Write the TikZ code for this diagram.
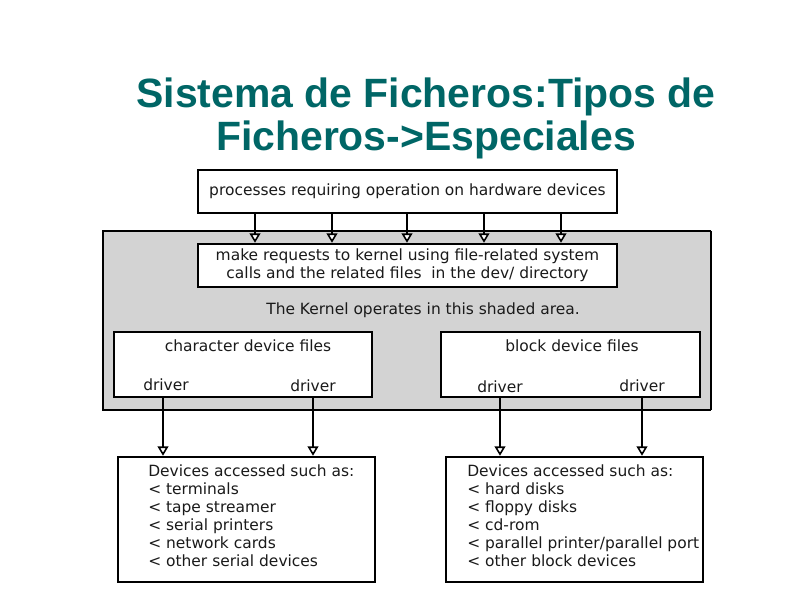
\documentclass[tikz,border=0pt]{standalone}
\usepackage{fontspec}
\setmainfont{DejaVu Sans}
\newfontfamily\titlefont{Liberation Sans}
\definecolor{titlecol}{HTML}{006666}
\definecolor{shadecol}{HTML}{D3D3D3}
\definecolor{inkcol}{HTML}{1A1A1A}
\usetikzlibrary{arrows.meta}

\begin{document}
\begin{tikzpicture}[x=0.75pt, y=-0.75pt,
  box/.style={draw=black, line width=1.8pt, fill=white, inner sep=0pt},
  lbl/.style={font=\fontsize{11.6}{13.5}\selectfont, text=inkcol},
  feed/.style={line width=1.7pt, -{Triangle[fill=white, length=7pt, width=8pt, line width=1.2pt]}}]

\useasboundingbox (0,0) rectangle (794,595);

% === TITLE ===
\node[font=\titlefont\bfseries\fontsize{30.7}{32.25}\selectfont, text=titlecol, align=center]
  (title) at (426,118) {Sistema de Ficheros:Tipos de\\Ficheros->Especiales};

% === KERNEL (shaded area) ===
\fill[shadecol] (103,231) rectangle (711,410);
\draw[line width=1.8pt] (711,231) -- (103,231) -- (103,410) -- (711,410);
\draw[line width=0.8pt] (711,231) -- (711,410);

% === PROCESSES -> REQUESTS ===
\node[box, lbl, minimum width=314.25pt, minimum height=32.25pt] (proc) at (407.5,191.5)
  {processes requiring operation on hardware devices};
\node[box, lbl, align=center, minimum width=314.25pt, minimum height=32.25pt] (req) at (407.5,265.5)
  {make requests to kernel using file-related system\\calls and the related files\ \ in the dev/ directory};
\foreach \x in {255,332,407,484,561}
  \draw[feed] (proc.south -| \x,0) -- (req.north -| \x,0);

\node[lbl] (kernel) at (423,310) {The Kernel operates in this shaded area.};

% === DEVICE FILES ===
\node[box, minimum width=193.5pt, minimum height=48.75pt] (cbox) at (243,364.5) {};
\node[box, minimum width=194.25pt, minimum height=48.75pt] (bbox) at (570.5,364.5) {};
\node[lbl] (ctitle) at (248,346) {character device files};
\node[lbl] (btitle) at (572,346) {block device files};
\node[lbl] (drv1) at (166,385) {driver};
\node[lbl] (drv2) at (313,386) {driver};
\node[lbl] (drv3) at (500,387) {driver};
\node[lbl] (drv4) at (642,386) {driver};

% === DEVICES ===
\node[box, minimum width=192.75pt, minimum height=93.75pt] (devL) at (246.5,519.5) {};
\node[box, minimum width=192.75pt, minimum height=93.75pt] (devR) at (574.5,519.5) {};
\foreach \x in {163,313}
  \draw[feed] (cbox.south -| \x,0) -- (devL.north -| \x,0);
\foreach \x in {500,642}
  \draw[feed] (bbox.south -| \x,0) -- (devR.north -| \x,0);

\node[lbl, align=left, anchor=north west, inner sep=0pt] (devLtxt) at (148,464)
  {Devices accessed such as:\\< terminals\\< tape streamer\\< serial printers\\< network cards\\< other serial devices};
\node[lbl, align=left, anchor=north west, inner sep=0pt] (devRtxt) at (467,464)
  {Devices accessed such as:\\< hard disks\\< floppy disks\\< cd-rom\\< parallel printer/parallel port\\< other block devices};

\end{tikzpicture}
\end{document}
